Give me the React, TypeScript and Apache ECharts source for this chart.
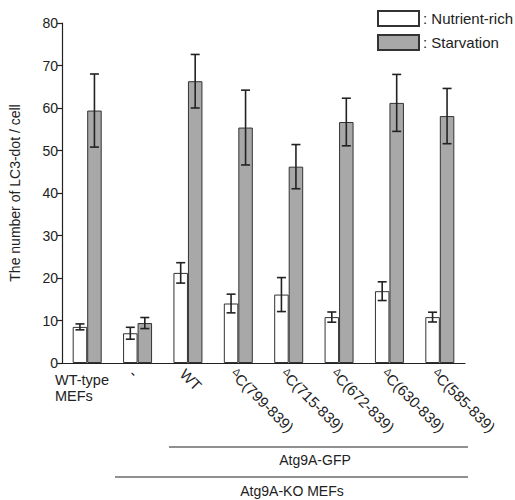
import React, { useEffect, useRef } from "react";
import * as echarts from "echarts";

const categories = ["WT-type\nMEFs", "-", "WT", "ΔC(799-839)", "ΔC(715-839)", "ΔC(672-839)", "ΔC(630-839)", "ΔC(585-839)"];
const nutrientMean = [8.5, 7.0, 21.2, 14.0, 16.1, 10.8, 16.9, 10.8];
const nutrientErr = [0.7, 1.4, 2.4, 2.2, 4.0, 1.2, 2.2, 1.15];
const starvationMean = [59.4, 9.4, 66.3, 55.4, 46.2, 56.7, 61.2, 58.1];
const starvationErr = [8.6, 1.3, 6.3, 8.8, 5.2, 5.6, 6.7, 6.5];
const seriesNames = ["Nutrient-rich", "Starvation"];
const yTicks = { min: 0, max: 80, interval: 10 };
const bracketLabels = ["Atg9A-GFP", "Atg9A-KO MEFs"];

const BAR_W = 14.5;
const TXT = "#222";
const FONT = "Liberation Sans, Arial, sans-serif";

function errorSeries(means: number[], errs: number[], offset: number) {
  return {
    type: "custom",
    silent: true,
    z: 5,
    data: means.map((m, i) => [i, m, errs[i]]),
    encode: { x: 0, y: 1 },
    renderItem: (params: any, api: any) => {
      const i = api.value(0);
      const m = api.value(1);
      const e = api.value(2);
      const top = api.coord([i, m + e]);
      const bot = api.coord([i, m - e]);
      const x = top[0] + offset;
      const cap = 4.5;
      const style = { stroke: TXT, lineWidth: 1.6 };
      return {
        type: "group",
        children: [
          { type: "line", shape: { x1: x, y1: top[1], x2: x, y2: bot[1] }, style },
          { type: "line", shape: { x1: x - cap, y1: top[1], x2: x + cap, y2: top[1] }, style },
          { type: "line", shape: { x1: x - cap, y1: bot[1], x2: x + cap, y2: bot[1] }, style },
        ],
      };
    },
  };
}

export default function App() {
  const ref = useRef<HTMLDivElement>(null);
  useEffect(() => {
    document.body.style.margin = "0";
    const chart = echarts.init(ref.current!, null, { renderer: "svg" });
    chart.setOption({
      animation: false,
      textStyle: { fontFamily: FONT, color: TXT },
      grid: { left: 62, right: 50, top: 23, bottom: 137 },
      legend: {
        orient: "vertical",
        left: 377,
        top: 10,
        icon: "rect",
        itemWidth: 41,
        itemHeight: 15,
        itemGap: 7,
        padding: 0,
        selectedMode: false,
        data: seriesNames,
        formatter: (n: string) => ": " + n,
        textStyle: { fontSize: 15, color: TXT, fontFamily: FONT, padding: [0, 0, 0, -1] },
      },
      xAxis: {
        type: "category",
        data: categories,
        axisLine: { lineStyle: { color: TXT, width: 1.2 } },
        axisTick: { length: 5, lineStyle: { color: TXT, width: 1.2 } },
        axisLabel: {
          rotate: -45,
          margin: 3,
          fontSize: 15,
          verticalAlign: "top",
          color: TXT,
          fontFamily: FONT,
          formatter: (v: string, i: number) => {
            if (i === 0) return "";
            return v.startsWith("Δ") ? "{d|Δ}" + v.slice(1) : v;
          },
          rich: { d: { fontSize: 10, color: TXT, fontFamily: FONT, verticalAlign: "top" } },
        },
      },
      yAxis: {
        type: "value",
        min: yTicks.min,
        max: yTicks.max,
        interval: yTicks.interval,
        name: "The number of LC3-dot / cell",
        nameLocation: "middle",
        nameGap: 40,
        nameTextStyle: { fontSize: 14, color: TXT, fontFamily: FONT },
        axisLine: { show: true, lineStyle: { color: TXT, width: 1.2 } },
        axisTick: { show: true, length: 5, lineStyle: { color: TXT, width: 1.2 } },
        axisLabel: { fontSize: 14, color: TXT, margin: 4, fontFamily: FONT },
        splitLine: { show: false },
      },
      graphic: [
        {
          type: "text",
          left: 55,
          top: 372,
          style: { text: categories[0], font: "14.5px " + FONT, fill: TXT, lineHeight: 16 },
        },
        { type: "line", shape: { x1: 169, y1: 447, x2: 468, y2: 447 }, style: { stroke: TXT, lineWidth: 1.2 } },
        {
          type: "text",
          x: 315,
          y: 460,
          style: { text: bracketLabels[0], font: "14px " + FONT, fill: TXT, align: "center", verticalAlign: "middle" },
        },
        { type: "line", shape: { x1: 115, y1: 477, x2: 468, y2: 477 }, style: { stroke: TXT, lineWidth: 1.2 } },
        {
          type: "text",
          x: 292,
          y: 491,
          style: { text: bracketLabels[1], font: "14px " + FONT, fill: TXT, align: "center", verticalAlign: "middle" },
        },
      ],
      series: [
        {
          name: seriesNames[0],
          type: "bar",
          data: nutrientMean,
          barWidth: BAR_W,
          barGap: "0%",
          itemStyle: { color: "#ffffff", borderColor: "#333", borderWidth: 1 },
        },
        {
          name: seriesNames[1],
          type: "bar",
          data: starvationMean,
          barWidth: BAR_W,
          barGap: "0%",
          itemStyle: { color: "#a8a8a8", borderColor: "#333", borderWidth: 1 },
        },
        errorSeries(nutrientMean, nutrientErr, -BAR_W / 2),
        errorSeries(starvationMean, starvationErr, BAR_W / 2),
      ],
    });
    return () => chart.dispose();
  }, []);
  return <div ref={ref} style={{ width: 515, height: 500 }} />;
}
